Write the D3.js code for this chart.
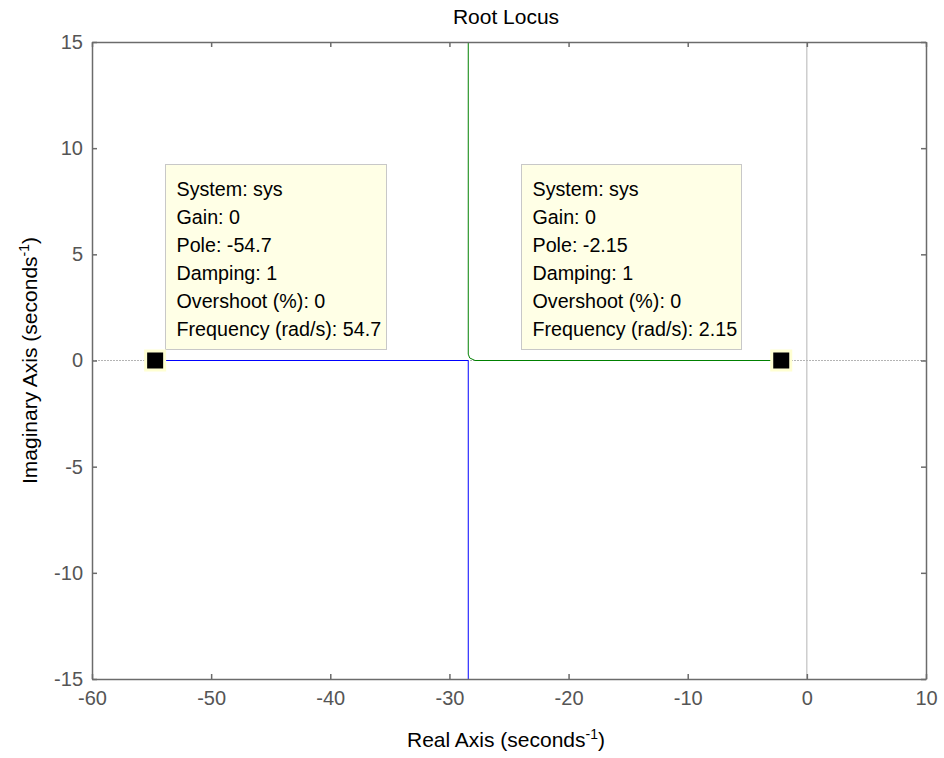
<!DOCTYPE html>
<html>
<head>
<meta charset="utf-8">
<script src="https://cdn.jsdelivr.net/npm/d3@7"></script>
<style>
  body { margin: 0; background: #fff; }
  text { font-family: Arial, "Liberation Sans", sans-serif; }
</style>
</head>
<body>
<svg id="chart" width="944" height="758"></svg>
<script>
// Root locus branches (real, imaginary)
const blueBranch = [[-54.7, 0], [-28.42, 0], [-28.42, -16]];
const greenBranch = [[-2.15, 0], [-27.85, 0], [-28.3, 0.12], [-28.42, 0.3], [-28.42, 16]];
// Open-loop poles (gain 0)
const poles = [-54.7, -2.15];
// Axis ticks
const xTicks = [-60, -50, -40, -30, -20, -10, 0, 10];
const yTicks = [-15, -10, -5, 0, 5, 10, 15];
// Data tip contents
const tipLeft = ["System: sys", "Gain: 0", "Pole: -54.7", "Damping: 1", "Overshoot (%): 0", "Frequency (rad/s): 54.7"];
const tipRight = ["System: sys", "Gain: 0", "Pole: -2.15", "Damping: 1", "Overshoot (%): 0", "Frequency (rad/s): 2.15"];

const svg = d3.select("#chart");
const L = 92, R = 926, T = 42, B = 679;
const x = d3.scaleLinear().domain([-60, 10]).range([L, R]);
const y = d3.scaleLinear().domain([-15, 15]).range([B, T]);
const axisColor = "#6b6b6b";
const fmt = d => String(d); // plain hyphen-minus labels

svg.append("defs").append("clipPath").attr("id", "plotClip")
  .append("rect").attr("x", L).attr("y", T).attr("width", R - L).attr("height", B - T);

const plot = svg.append("g").attr("clip-path", "url(#plotClip)");

// zero reference lines
plot.append("line").attr("x1", x(-60)).attr("x2", x(10)).attr("y1", y(0)).attr("y2", y(0))
  .attr("stroke", "#b4b4b4").attr("stroke-width", 1).attr("stroke-dasharray", "2,1");
plot.append("line").attr("x1", x(0)).attr("x2", x(0)).attr("y1", y(-15)).attr("y2", y(15))
  .attr("stroke", "#b4b4b4").attr("stroke-width", 1);

const line = d3.line().x(d => x(d[0])).y(d => y(d[1]));
plot.append("path").datum(blueBranch).attr("d", line)
  .attr("fill", "none").attr("stroke", "#0000ff").attr("stroke-width", 1);
plot.append("path").datum(greenBranch).attr("d", line)
  .attr("fill", "none").attr("stroke", "#008000").attr("stroke-width", 1);

// Axes box with inward ticks
const axG = svg.append("g");
const tl = 5;
axG.append("g").attr("transform", `translate(0,${B})`)
  .call(d3.axisBottom(x).tickValues(xTicks).tickSizeInner(-tl).tickSizeOuter(0).tickPadding(12).tickFormat(fmt));
axG.append("g").attr("transform", `translate(0,${T})`)
  .call(d3.axisTop(x).tickValues(xTicks).tickSizeInner(-tl).tickSizeOuter(0).tickFormat(""));
axG.append("g").attr("transform", `translate(${L},0)`)
  .call(d3.axisLeft(y).tickValues(yTicks).tickSizeInner(-tl).tickSizeOuter(0).tickPadding(9).tickFormat(fmt));
axG.append("g").attr("transform", `translate(${R},0)`)
  .call(d3.axisRight(y).tickValues(yTicks).tickSizeInner(-tl).tickSizeOuter(0).tickFormat(""));
axG.selectAll(".domain").attr("stroke", axisColor).attr("stroke-width", 1.5);
axG.selectAll(".tick line").attr("stroke", axisColor).attr("stroke-width", 1.5);
axG.selectAll(".tick text").attr("fill", "#555").attr("font-size", 20)
  .attr("font-family", "Arial, 'Liberation Sans', sans-serif");

// Data tips
function dataTip(lines, bx, by, bw, bh) {
  const g = svg.append("g");
  g.append("rect").attr("x", bx).attr("y", by).attr("width", bw).attr("height", bh)
    .attr("fill", "#ffffe6").attr("stroke", "#c8c8c8").attr("stroke-width", 1);
  g.selectAll("text").data(lines).join("text")
    .attr("x", bx + 11).attr("y", (d, i) => by + 31 + i * 28)
    .attr("font-size", 19.7).attr("fill", "#000").text(d => d);
}
dataTip(tipLeft, 165.5, 164.5, 221, 185);
dataTip(tipRight, 521.5, 164.5, 220, 185);

// Pole markers with highlight halo
const mk = svg.append("g");
mk.selectAll("rect.halo").data(poles).join("rect").attr("class", "halo")
  .attr("x", d => x(d) - 11).attr("y", y(0) - 11).attr("width", 22).attr("height", 22)
  .attr("fill", "#ffffd2");
mk.selectAll("rect.pole").data(poles).join("rect").attr("class", "pole")
  .attr("x", d => x(d) - 8).attr("y", y(0) - 8).attr("width", 16).attr("height", 16)
  .attr("fill", "#000");

// Title and axis labels
svg.append("text").attr("x", 506).attr("y", 24).attr("text-anchor", "middle")
  .attr("font-size", 21).attr("fill", "#000").text("Root Locus");

const xl = svg.append("text").attr("x", 506).attr("y", 747).attr("text-anchor", "middle")
  .attr("font-size", 21).attr("fill", "#000");
xl.append("tspan").text("Real Axis (seconds");
xl.append("tspan").attr("dy", -8).attr("font-size", 14).text("-1");
xl.append("tspan").attr("dy", 8).text(")");

const yl = svg.append("text").attr("transform", `translate(37,${(T + B) / 2}) rotate(-90)`)
  .attr("text-anchor", "middle").attr("font-size", 21).attr("fill", "#000");
yl.append("tspan").text("Imaginary Axis (seconds");
yl.append("tspan").attr("dy", -8).attr("font-size", 14).text("-1");
yl.append("tspan").attr("dy", 8).text(")");
</script>
</body>
</html>
